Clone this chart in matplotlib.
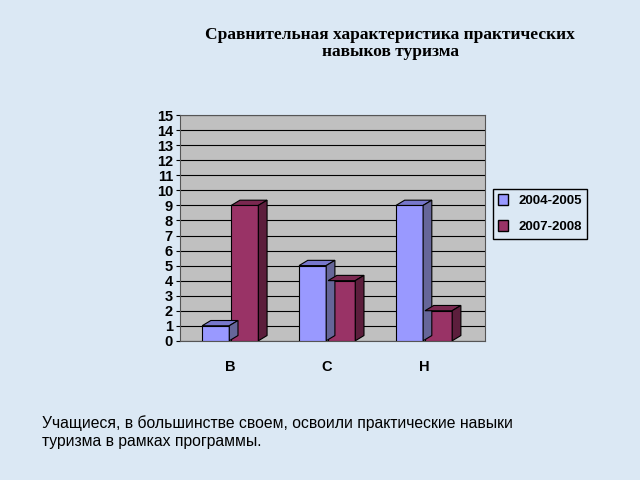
import matplotlib
matplotlib.use("Agg")
import matplotlib.pyplot as plt
from matplotlib.patches import Polygon, Rectangle

categories = ["В", "С", "Н"]
series_names = ["2004-2005", "2007-2008"]
values_0405 = [1, 5, 9]
values_0708 = [9, 4, 2]
colors = ["#9999ff", "#993366"]
tops = ["#7777cc", "#7a2850"]
sides = ["#666699", "#5c1e3c"]

fig = plt.figure(figsize=(6.4, 4.8), dpi=100)
fig.patch.set_facecolor("#dbe8f4")
ax = fig.add_axes([0.281, 0.29, 0.477, 0.47])
ax.set_xlim(-0.52, 2.63)
ax.set_ylim(0, 15)
ax.set_facecolor("#c0c0c0")
ax.set_yticks(range(16))
for t in ax.get_yticklabels():
    t.set_fontfamily("Liberation Sans"); t.set_fontweight("bold"); t.set_fontsize(10.5)
ax.set_xticks(range(3))
ax.set_xticklabels(categories, fontfamily="Liberation Sans", fontweight="bold", fontsize=10.5)
ax.tick_params(axis="x", length=0, pad=14)
ax.tick_params(axis="y", length=3, pad=2)
ax.yaxis.grid(True, color="black", linewidth=0.8)
ax.set_axisbelow(True)
for s in ax.spines.values():
    s.set_color("#555555")

dx, dy = 0.09, 0.35
w = 0.28
for vals, off, c, tc, sc in [(values_0405, -0.15, colors[0], tops[0], sides[0]),
                             (values_0708, 0.15, colors[1], tops[1], sides[1])]:
    xs = [i + off for i in range(len(vals))]
    ax.bar(xs, vals, width=w, color=c, edgecolor="black", linewidth=0.8, zorder=3)
    for x, v in zip(xs, vals):
        l, r = x - w / 2, x + w / 2
        ax.add_patch(Polygon([(l, v), (l + dx, v + dy), (r + dx, v + dy), (r, v)],
                             closed=True, facecolor=tc, edgecolor="black", lw=0.8, zorder=4))
        ax.add_patch(Polygon([(r, 0), (r + dx, dy), (r + dx, v + dy), (r, v)],
                             closed=True, facecolor=sc, edgecolor="black", lw=0.8, zorder=4))

fig.text(0.61, 0.91, "Сравнительная характеристика практических\nнавыков туризма",
         ha="center", va="center", fontfamily="Liberation Serif", fontweight="bold",
         fontsize=12.5, linespacing=1.1)

handles = [Rectangle((0, 0), 1, 1, facecolor=colors[i], edgecolor="black") for i in range(2)]
leg = fig.legend(handles, series_names, loc="center left", bbox_to_anchor=(0.76, 0.555),
                 prop={"family": "Liberation Sans", "weight": "bold", "size": 9.5},
                 frameon=True, fancybox=False, edgecolor="black", framealpha=1,
                 handlelength=0.7, handleheight=0.9, labelspacing=1.0)
leg.get_frame().set_facecolor("#dbe8f4")

fig.text(0.066, 0.1, "Учащиеся, в большинстве своем, освоили практические навыки\nтуризма в рамках программы.",
         ha="left", va="center", fontfamily="Liberation Sans", fontsize=11.3, linespacing=1.2)

fig.savefig("out.png", dpi=100, facecolor=fig.get_facecolor())
